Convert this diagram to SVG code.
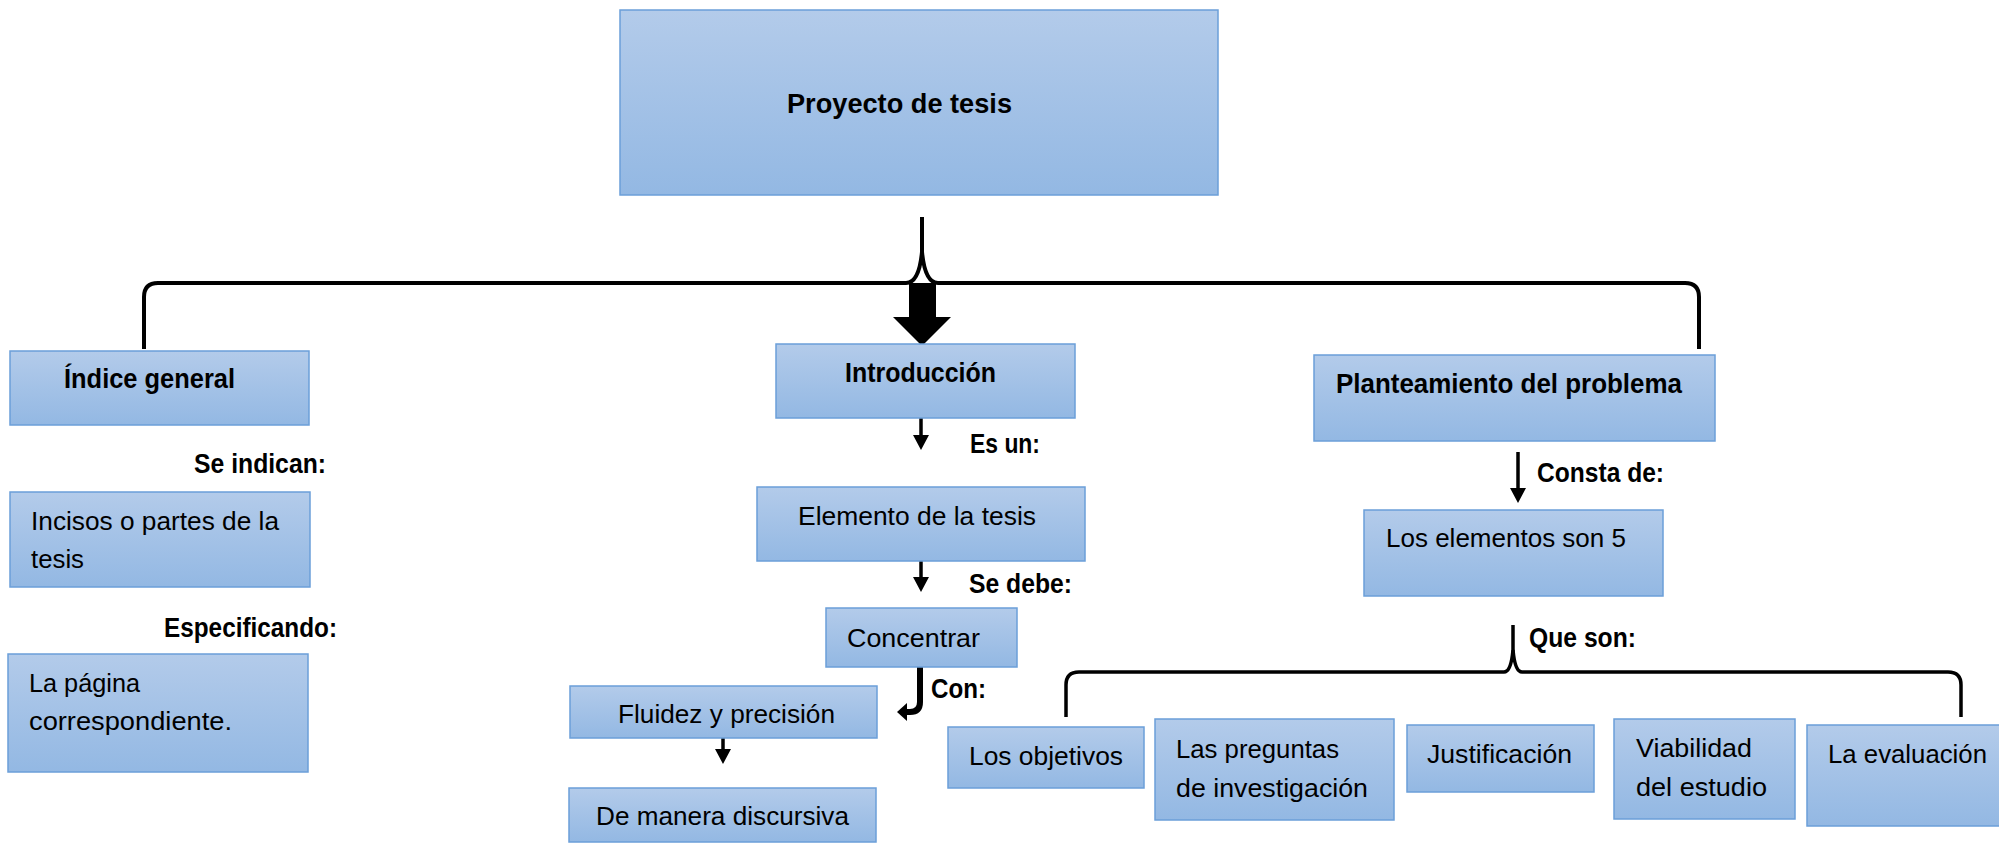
<svg xmlns="http://www.w3.org/2000/svg" width="1999" height="843" viewBox="0 0 1999 843">
<defs>
<linearGradient id="g" x1="0" y1="0" x2="0" y2="1">
<stop offset="0" stop-color="#b3cbea"/>
<stop offset="1" stop-color="#93b8e3"/>
</linearGradient>
<marker id="ah" markerUnits="userSpaceOnUse" markerWidth="16" markerHeight="16" viewBox="0 0 16 16" refX="0" refY="8" orient="auto">
<path d="M0,0 L15,8 L0,16 z" fill="#000"/>
</marker>
</defs>
<style>
.box{fill:url(#g);stroke:#6b9fd9;stroke-width:1.5}
text{font-family:"Liberation Sans",Arial,sans-serif;font-size:26px;fill:#000}
.b{font-weight:bold;font-size:27px}
.ln{fill:none;stroke:#000;stroke-width:3.5}
.br{fill:none;stroke:#000;stroke-width:4}
</style>
<rect width="1999" height="843" fill="#fff"/>

<g id="connectors">
<path class="br" d="M144,349 V297 Q144,283 158,283 H906 Q919,283 922,252 V217"/>
<path class="br" d="M1699,349 V297 Q1699,283 1685,283 H938 Q925,283 922,252"/>
<polygon points="909,283 936,283 936,317 951,317 922,346 893,317 909,317" fill="#000"/>
<line class="ln" x1="921" y1="418" x2="921" y2="435" marker-end="url(#ah)"/>
<line class="ln" x1="921" y1="561" x2="921" y2="577" marker-end="url(#ah)"/>
<path d="M920,667 V702 Q920,712 910,712 H906" fill="none" stroke="#000" stroke-width="6"/>
<polygon points="897,712 907,703 907,721" fill="#000"/>
<line class="ln" x1="723" y1="738" x2="723" y2="749" marker-end="url(#ah)"/>
<line class="ln" x1="1518" y1="452" x2="1518" y2="488" marker-end="url(#ah)"/>
<path class="ln" d="M1066,717 V685 Q1066,672 1079,672 H1504 Q1511,672 1513,650 V625"/>
<path class="ln" d="M1961,717 V685 Q1961,672 1948,672 H1522 Q1515,672 1513,650"/>
</g>

<g id="n-proyecto">
<rect class="box" x="620" y="10" width="598" height="185"/>
<text class="b" x="787" y="113" textLength="225" lengthAdjust="spacingAndGlyphs">Proyecto de tesis</text>
</g>
<g id="n-indice">
<rect class="box" x="10" y="351" width="299" height="74"/>
<text class="b" x="64" y="388" textLength="171" lengthAdjust="spacingAndGlyphs">Índice general</text>
</g>
<g id="n-intro">
<rect class="box" x="776" y="344" width="299" height="74"/>
<text class="b" x="845" y="382" textLength="151" lengthAdjust="spacingAndGlyphs">Introducción</text>
</g>
<g id="n-planteamiento">
<rect class="box" x="1314" y="355" width="401" height="86"/>
<text class="b" x="1336" y="393" textLength="346" lengthAdjust="spacingAndGlyphs">Planteamiento del problema</text>
</g>

<g id="labels">
<text class="b" x="194" y="473" textLength="132" lengthAdjust="spacingAndGlyphs">Se indican:</text>
<text class="b" x="164" y="637" textLength="173" lengthAdjust="spacingAndGlyphs">Especificando:</text>
<text class="b" x="970" y="453" textLength="70" lengthAdjust="spacingAndGlyphs">Es un:</text>
<text class="b" x="969" y="593" textLength="103" lengthAdjust="spacingAndGlyphs">Se debe:</text>
<text class="b" x="931" y="698" textLength="55" lengthAdjust="spacingAndGlyphs">Con:</text>
<text class="b" x="1537" y="482" textLength="127" lengthAdjust="spacingAndGlyphs">Consta de:</text>
<text class="b" x="1529" y="647" textLength="107" lengthAdjust="spacingAndGlyphs">Que son:</text>
</g>

<g id="n-incisos">
<rect class="box" x="10" y="492" width="300" height="95"/>
<text x="31" y="530" textLength="248" lengthAdjust="spacingAndGlyphs">Incisos o partes de la</text>
<text x="31" y="568" textLength="53" lengthAdjust="spacingAndGlyphs">tesis</text>
</g>
<g id="n-pagina">
<rect class="box" x="8" y="654" width="300" height="118"/>
<text x="29" y="692" textLength="111" lengthAdjust="spacingAndGlyphs">La página</text>
<text x="29" y="730" textLength="203" lengthAdjust="spacingAndGlyphs">correspondiente.</text>
</g>
<g id="n-elemento">
<rect class="box" x="757" y="487" width="328" height="74"/>
<text x="798" y="525" textLength="238" lengthAdjust="spacingAndGlyphs">Elemento de la tesis</text>
</g>
<g id="n-concentrar">
<rect class="box" x="826" y="608" width="191" height="59"/>
<text x="847" y="647" textLength="133" lengthAdjust="spacingAndGlyphs">Concentrar</text>
</g>
<g id="n-fluidez">
<rect class="box" x="570" y="686" width="307" height="52"/>
<text x="618" y="723" textLength="217" lengthAdjust="spacingAndGlyphs">Fluidez y precisión</text>
</g>
<g id="n-discursiva">
<rect class="box" x="569" y="788" width="307" height="54"/>
<text x="596" y="825" textLength="253" lengthAdjust="spacingAndGlyphs">De manera discursiva</text>
</g>
<g id="n-elementos">
<rect class="box" x="1364" y="510" width="299" height="86"/>
<text x="1386" y="547" textLength="240" lengthAdjust="spacingAndGlyphs">Los elementos son 5</text>
</g>
<g id="n-objetivos">
<rect class="box" x="948" y="727" width="196" height="61"/>
<text x="969" y="765" textLength="154" lengthAdjust="spacingAndGlyphs">Los objetivos</text>
</g>
<g id="n-preguntas">
<rect class="box" x="1155" y="719" width="239" height="101"/>
<text x="1176" y="758" textLength="163" lengthAdjust="spacingAndGlyphs">Las preguntas</text>
<text x="1176" y="797" textLength="192" lengthAdjust="spacingAndGlyphs">de investigación</text>
</g>
<g id="n-justificacion">
<rect class="box" x="1407" y="725" width="187" height="67"/>
<text x="1427" y="763" textLength="145" lengthAdjust="spacingAndGlyphs">Justificación</text>
</g>
<g id="n-viabilidad">
<rect class="box" x="1614" y="719" width="181" height="100"/>
<text x="1636" y="757" textLength="116" lengthAdjust="spacingAndGlyphs">Viabilidad</text>
<text x="1636" y="796" textLength="131" lengthAdjust="spacingAndGlyphs">del estudio</text>
</g>
<g id="n-evaluacion">
<rect class="box" x="1807" y="725" width="200" height="101"/>
<text x="1828" y="763" textLength="159" lengthAdjust="spacingAndGlyphs">La evaluación</text>
</g>
</svg>
